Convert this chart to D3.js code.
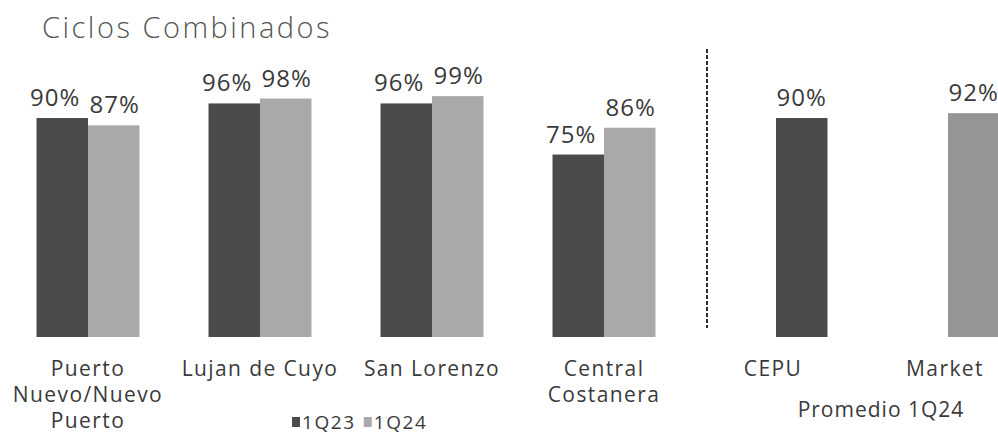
<!DOCTYPE html>
<html>
<head>
<meta charset="utf-8">
<script src="https://cdn.jsdelivr.net/npm/d3@7"></script>
<style>
	body { margin: 0; background: #fff; }
	text { font-family: "Open Sans", sans-serif; }
</style>
</head>
<body>
<div id="chart"></div>
<script>

// data
let categories = ["Puerto Nuevo/Nuevo Puerto", "Lujan de Cuyo", "San Lorenzo", "Central Costanera"];
let series = ["1Q23", "1Q24"];
let values1Q23 = [90, 96, 96, 75];
let values1Q24 = [87, 98, 99, 86];

// promedio 1Q24 panel
let avgCategories = ["CEPU", "Market"];
let avgValues = [90, 92];

let labelLines = {
	"Puerto Nuevo/Nuevo Puerto": ["Puerto", "Nuevo/Nuevo", "Puerto"],
	"Lujan de Cuyo": ["Lujan de Cuyo"],
	"San Lorenzo": ["San Lorenzo"],
	"Central Costanera": ["Central", "Costanera"],
	"CEPU": ["CEPU"],
	"Market": ["Market"]
};

let colors = {"1Q23": "#4b4b4d", "1Q24": "#a9a9ab", "Market": "#959597"};

let width = 998, height = 436;

let svg = d3.select("#chart").append("svg")
	.attr("width", width)
	.attr("height", height);

svg.append("rect").attr("width", width).attr("height", height).attr("fill", "#fff");

// scales
let x0 = d3.scaleBand()
	.domain(categories.concat(avgCategories))
	.range([2, 1034])
	.padding(0);

let x1 = d3.scaleBand()
	.domain(series)
	.range([-51.5, 51.5]);

let y = d3.scaleLinear()
	.domain([0, 100])
	.range([337, 93.7]);

let center = d => x0(d) + x0.bandwidth() / 2;

// title
svg.append("text")
	.attr("x", 42)
	.attr("y", 38)
	.attr("font-size", 29)
	.attr("font-weight", 300)
	.attr("letter-spacing", 2.5)
	.attr("fill", "#555")
	.text("Ciclos Combinados");

// grouped bars
let rows = [];
categories.forEach((c, i) => {
	rows.push({cat: c, s: "1Q23", value: values1Q23[i]});
	rows.push({cat: c, s: "1Q24", value: values1Q24[i]});
});

svg.selectAll(".bar")
	.data(rows)
	.enter()
	.append("rect")
	.attr("class", "bar")
	.attr("x", d => center(d.cat) + x1(d.s))
	.attr("y", d => y(d.value))
	.attr("width", x1.bandwidth())
	.attr("height", d => y(0) - y(d.value))
	.attr("fill", d => colors[d.s]);

svg.selectAll(".val")
	.data(rows)
	.enter()
	.append("text")
	.attr("class", "val")
	.attr("x", d => center(d.cat) + x1(d.s) + x1.bandwidth() / 2 + (d.s === "1Q23" ? -7 : 1))
	.attr("y", d => y(d.value) - 12)
	.attr("text-anchor", "middle")
	.attr("font-size", 24)
	.attr("letter-spacing", 1)
	.attr("fill", "#3a3a3a")
	.text(d => d.value + "%");

// promedio bars (sit in the right slot of each band)
let avgRows = avgCategories.map((c, i) => ({cat: c, value: avgValues[i]}));

svg.selectAll(".avgbar")
	.data(avgRows)
	.enter()
	.append("rect")
	.attr("class", "avgbar")
	.attr("x", d => center(d.cat) + x1("1Q24"))
	.attr("y", d => y(d.value))
	.attr("width", x1.bandwidth())
	.attr("height", d => y(0) - y(d.value))
	.attr("fill", d => d.cat === "CEPU" ? colors["1Q23"] : colors["Market"]);

svg.selectAll(".avgval")
	.data(avgRows)
	.enter()
	.append("text")
	.attr("class", "avgval")
	.attr("x", d => center(d.cat) + x1("1Q24") + x1.bandwidth() / 2)
	.attr("y", d => y(d.value) - 12)
	.attr("text-anchor", "middle")
	.attr("font-size", 24)
	.attr("letter-spacing", 1)
	.attr("fill", "#3a3a3a")
	.text(d => d.value + "%");

// divider between panels
let divX = (x0("Central Costanera") + x0.bandwidth() + x0("CEPU")) / 2 + 17;
svg.append("line")
	.attr("x1", divX).attr("x2", divX)
	.attr("y1", 49).attr("y2", 328)
	.attr("stroke", "#2e2e2e")
	.attr("stroke-width", 2)
	.attr("stroke-dasharray", "4,2");

// category labels
let catLabels = svg.selectAll(".cat")
	.data(categories.concat(avgCategories))
	.enter()
	.append("text")
	.attr("class", "cat")
	.attr("text-anchor", "middle")
	.attr("font-size", 21)
	.attr("letter-spacing", 1.4)
	.attr("fill", "#3a3a3a")
	.attr("y", 376);

catLabels.selectAll("tspan")
	.data(d => labelLines[d].map(t => ({t: t, c: d})))
	.enter()
	.append("tspan")
	.attr("x", d => center(d.c) - (avgCategories.includes(d.c) ? 3 : 0))
	.attr("dy", (d, i) => i === 0 ? 0 : 26)
	.text(d => d.t);

svg.append("text")
	.attr("x", (center("CEPU") + center("Market")) / 2 + 19)
	.attr("y", 417)
	.attr("text-anchor", "middle")
	.attr("font-size", 21)
	.attr("letter-spacing", 1)
	.attr("fill", "#3a3a3a")
	.text("Promedio 1Q24");

// legend
let legend = svg.append("g").attr("transform", "translate(292,429)");
let lx = 0;
series.forEach(s => {
	legend.append("rect")
		.attr("x", lx).attr("y", -12)
		.attr("width", 8).attr("height", 10)
		.attr("fill", colors[s]);
	let t = legend.append("text")
		.attr("x", lx + 10)
		.attr("y", 0)
		.attr("font-size", 19)
		.attr("letter-spacing", 1.6)
		.attr("fill", "#3a3a3a")
		.text(s);
	lx += 10 + t.node().getComputedTextLength() + 8;
});

</script>
</body>
</html>
